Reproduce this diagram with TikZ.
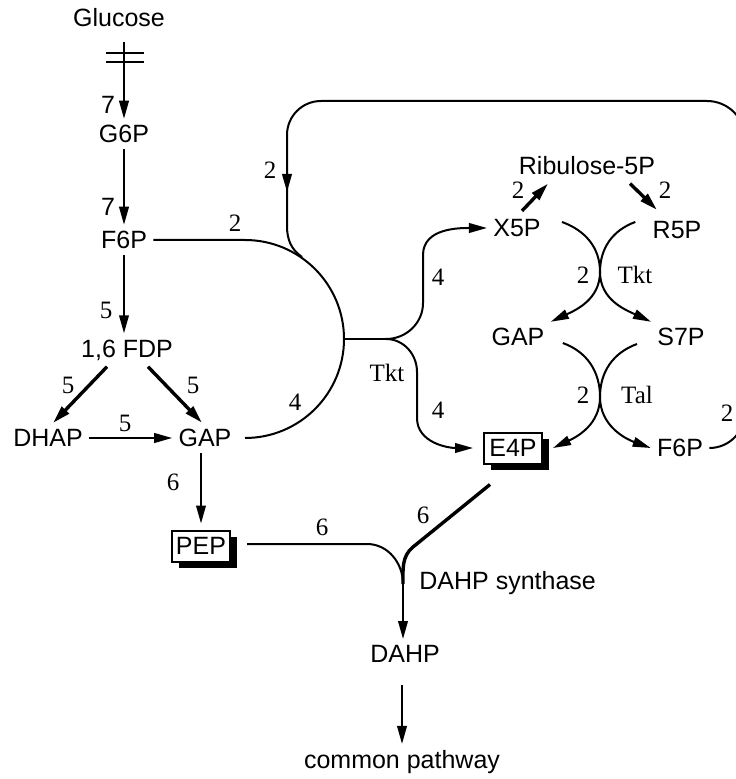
\documentclass[tikz,border=0pt]{standalone}
\usepackage{fontspec}
\setmainfont{Liberation Serif}
\newfontfamily\metfont{Liberation Sans}
\usepackage{tikz}
\usetikzlibrary{calc,arrows.meta,shadows}
\definecolor{Ink}{HTML}{000000}

\begin{document}
\begin{tikzpicture}[x=0.5pt,y=0.5pt,
    met/.style={font=\metfont\fontsize{12.5}{15}\selectfont, inner sep=3pt},
    num/.style={font=\fontsize{12.5}{15}\selectfont, inner sep=0pt},
    metbox/.style={met, draw=Ink, line width=1pt, fill=white,
        minimum width=29pt, minimum height=15.5pt, inner sep=1pt,
        drop shadow={shadow xshift=3.5pt, shadow yshift=-3pt, fill=Ink, opacity=1}},
    flux/.style={draw=Ink, line width=1pt},
    heavy/.style={draw=Ink, line width=1.7pt},
    headed/.style={-{Triangle[length=9pt,width=4.8pt]}}
]
    \useasboundingbox (0,0) rectangle (735,-779);

    \node[met] (glc) at (119,-18) {Glucose};
    \node[met] (g6p) at (124,-134) {G6P};
    \node[met] (f6p) at (124,-240) {F6P};
    \node[met] (fdp) at (127,-350) {1,6 FDP};
    \node[met] (dhap) at (48,-438) {DHAP};
    \node[met] (gapl) at (205,-438) {GAP};
    \node[metbox] (pep) at (201,-546) {PEP};

    \node[met] (ribu) at (587,-166) {Ribulose-5P};
    \node[met] (x5p) at (517,-228) {X5P};
    \node[met] (r5p) at (677,-230) {R5P};
    \node[met] (gapr) at (518,-337) {GAP};
    \node[met] (s7p) at (681,-337) {S7P};
    \node[metbox] (e4p) at (513,-448) {E4P};
    \node[met] (f6pr) at (680,-448) {F6P};

    \node[met] (dahp) at (405,-654) {DAHP};
    \node[met] (cp) at (402,-762) {common pathway};
    \node[met, anchor=west] (syn) at (413,-583) {DAHP synthase};

    \node[met, inner sep=0pt] (n7a) at (108,-105) {7};
    \node[met, inner sep=0pt] (n7b) at (108,-207) {7};
    \node[num] (n5a) at (106,-310) {5};
    \node[num] (n5b) at (68,-385) {5};
    \node[num] (n5c) at (193,-385) {5};
    \node[num] (n5d) at (125,-423) {5};
    \node[num] (n6a) at (173,-482) {6};
    \node[num] (n6b) at (322,-527) {6};
    \node[num] (n6c) at (423,-515) {6};
    \node[num] (n2a) at (235,-223) {2};
    \node[num] (n2b) at (270,-170) {2};
    \node[num] (n4a) at (295,-402) {4};
    \node[num] (tktl) at (387,-373) {Tkt};
    \node[num] (n4b) at (438,-277) {4};
    \node[num] (n4c) at (438,-410) {4};
    \node[num] (n2c) at (518,-190) {2};
    \node[num] (n2d) at (665,-190) {2};
    \node[num] (n2e) at (583,-275) {2};
    \node[num] (tktr) at (635,-275) {Tkt};
    \node[num] (n2f) at (583,-395) {2};
    \node[num] (talr) at (637,-395) {Tal};
    \node[num] (n2g) at (727,-413) {2};

    \coordinate (merge) at (344,-339);
    \coordinate (split) at (386,-339);
    \coordinate (tkt) at (600,-272);
    \coordinate (tal) at (600,-397);
    \coordinate (join) at (403,-584);
    \coordinate (back) at (287,-192);
    \coordinate (rim) at (745,-412);

    \draw[flux, headed, shorten <=4pt] (glc.south -| g6p.north) -- (g6p.north);
    \draw[flux] ($(glc.south -| g6p.north)+(-18,-19)$) -- ++(38,0);
    \draw[flux] ($(glc.south -| g6p.north)+(-18,-28)$) -- ++(38,0);
    \draw[flux, headed] (g6p) -- (f6p);
    \draw[flux, headed] (f6p) -- (f6p |- fdp.north);
    \draw[heavy, headed] ($(fdp.south)+(-20,0)$) -- ($(dhap.north)+(5,0)$);
    \draw[heavy, headed] ($(fdp.south)+(21,0)$) -- ($(gapl.north)+(-3,0)$);
    \draw[flux, headed] (dhap) -- (gapl);
    \draw[flux, headed, shorten >=3pt] (gapl.south -| pep.north) -- (pep.north);

    \draw[flux] (f6p.east) -- (245,-240) arc[start angle=90, end angle=-90, radius=99];
    \draw[flux] (merge) -- (split);
    \draw[flux, headed] (split) to[out=0, in=-90] (423,-303) -- (423,-255) to[out=90, in=180] (x5p.west);
    \draw[flux, headed] (split) to[out=0, in=90] (417,-372) -- (417,-418) to[out=-90, in=180] ([xshift=-5pt]e4p.west);

    \draw[flux] (f6pr.east) to[out=0, in=-90] (rim) -- (745,-139) to[out=90, in=0] (707,-101)
        -- (321,-101) to[out=180, in=90] (287,-135) -- (back);
    \draw[flux, headed] (287,-150) -- (back);
    \draw[flux] (back) -- (287,-226) to[out=-90, in=145] (302,-257);

    \draw[heavy, headed] ($(x5p.north)+(5,2)$) -- ($(ribu.south)+(-39,-2)$);
    \draw[heavy, headed] ($(ribu.south)+(43,-2)$) -- ($(r5p.north)+(-20,5)$);

    \draw[flux, headed] ($(x5p.east)+(15,6)$) to[out=-20, in=90] (tkt) to[out=-90, in=25] (gapr.north east);
    \draw[flux, headed] ($(r5p.west)+(-11,8)$) to[out=200, in=90] (tkt) to[out=-90, in=155] (s7p.north west);
    \draw[flux, headed] ($(gapr.east)+(12,-6)$) to[out=-20, in=90] (tal) to[out=-90, in=25] ([xshift=5pt]e4p.east);
    \draw[flux, headed] ($(s7p.west)+(-14,-7)$) to[out=200, in=90] (tal) to[out=-90, in=160] (f6pr.west);

    \draw[flux] ($(pep.east)+(16,2)$) -- (367,-544) to[out=0, in=90] (join);
    \draw[heavy] ($(e4p.south)+(-23,-20)$) -- (413,-547) to[out=-140, in=90] (join);
    \draw[flux, headed] (join) -- (join |- dahp.north);
    \draw[flux, headed, shorten <=8pt] (dahp.south -| cp.north) -- (cp.north);
\end{tikzpicture}
\end{document}
